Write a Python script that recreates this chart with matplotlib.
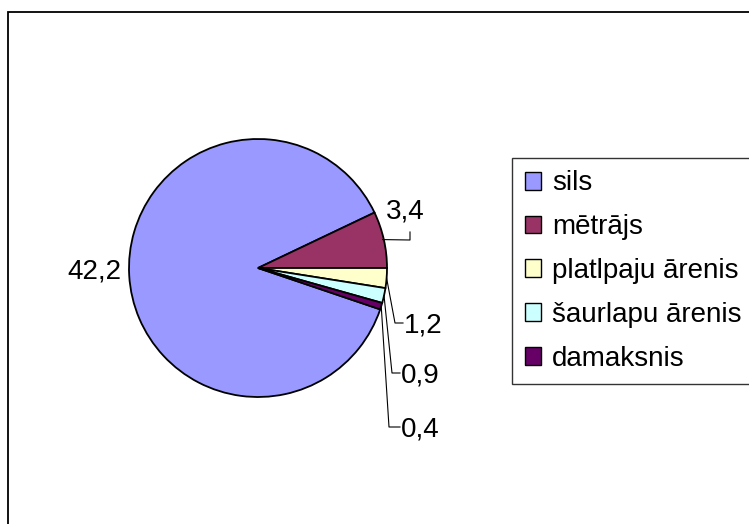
import matplotlib
matplotlib.use("Agg")
import matplotlib.pyplot as plt
from matplotlib.patches import Rectangle, Patch
import numpy as np

categories = ["sils", "mētrājs", "platlpaju ārenis", "šaurlapu ārenis", "damaksnis"]
values = [42.2, 3.4, 1.2, 0.9, 0.4]
colors = ["#9999FF", "#993366", "#FFFFCC", "#CCFFFF", "#660066"]

W, H = 749, 524
CX, CY, R = 258, 268, 129  # pie centre / radius in pixels

def px(x, y):
    return (x - CX) / R, (CY - y) / R

plt.rcParams['font.family'] = ['Liberation Sans', 'DejaVu Sans']
FS = 20

fig = plt.figure(figsize=(W / 100, H / 100), dpi=100)
ax = fig.add_axes([0, 0, 1, 1])

# outer chart frame
x0, y0 = px(8, 12)
x1, y1 = px(W + 20, H + 20)
ax.add_patch(Rectangle((x0, y1), x1 - x0, y0 - y1, fill=False, ec='black', lw=1.3, zorder=0))

total = sum(values)
# sils first, clockwise; mētrājs ends at 0 degrees
start = 360 * (values[0] + values[1]) / total
wedges, _ = ax.pie(values, colors=colors, startangle=start, counterclock=False,
                   radius=1, center=(0, 0), frame=True,
                   wedgeprops=dict(edgecolor='black', linewidth=1.3))
ax.set_xlim(-CX / R, (W - CX) / R)
ax.set_ylim(-(H - CY) / R, CY / R)
ax.set_aspect('auto')
ax.axis('off')

def lab(v):
    return f"{v:.1f}".replace('.', ',')

def mid(w):
    return np.deg2rad((w.theta1 + w.theta2) / 2)

# label 42,2
tx, ty = px(94, 271)
ax.text(tx, ty, lab(values[0]), fontsize=FS, ha='center', va='center')

# leader-line labels: (bend point, end point, text pos)
leaders = [
    (px(410, 240), px(410, 232), px(405, 211), 'center'),
    (px(395, 323), px(403, 323), px(404, 325), 'left'),
    (px(392, 373), px(400, 373), px(401, 376), 'left'),
    (px(389, 427), px(400, 427), px(401, 430), 'left'),
]
for i, (b, e, t, ha) in enumerate(leaders, start=1):
    a = mid(wedges[i])
    sx, sy = np.cos(a), np.sin(a)
    if i == 1:
        sx = 0.99 * sx
    ax.plot([sx, b[0], e[0]], [sy, b[1], e[1]], color='black', lw=0.8, zorder=5)
    ax.text(t[0], t[1], lab(values[i]), fontsize=FS, ha=ha, va='center')

handles = [Patch(facecolor=c, edgecolor='black', linewidth=1.0) for c in colors]
leg = fig.legend(handles, categories, loc='upper left',
                 bbox_to_anchor=(512 / W, 1 - 158 / H), fontsize=FS,
                 frameon=True, fancybox=False, edgecolor='black',
                 handlelength=0.6, handleheight=0.6, handletextpad=0.4,
                 labelspacing=0.64, borderpad=0.45, borderaxespad=0)
leg.get_frame().set_linewidth(1.0)

fig.savefig("out.png", dpi=100)
